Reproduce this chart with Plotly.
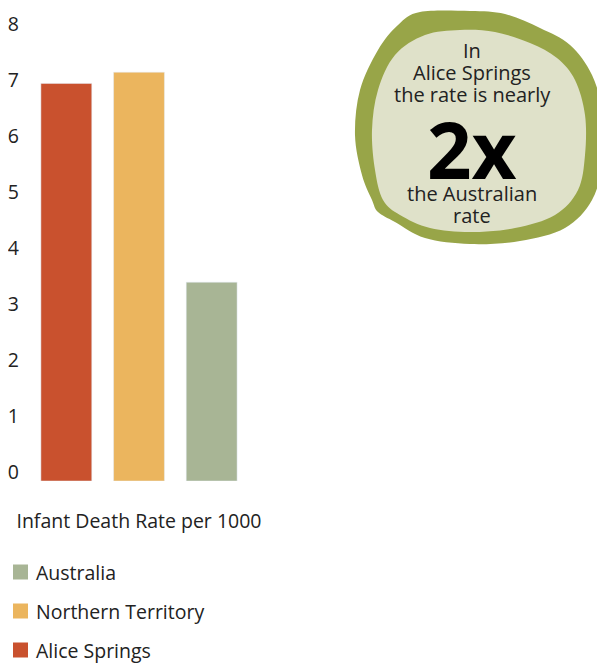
import plotly.graph_objects as go

# ---- data ----
categories = ["Alice Springs", "Northern Territory", "Australia"]
values = [7.1, 7.3, 3.55]
colors = ["#c9512e", "#ebb55e", "#a8b595"]
y_ticks = [0, 1, 2, 3, 4, 5, 6, 7, 8]
axis_title = "Infant Death Rate per 1000"
callout_top = ["In", "Alice Springs", "the rate is nearly"]
callout_big = "2x"
callout_bottom = ["the Australian", "rate"]

W, H = 605, 664
OFF = 8  # page body margin: page px -> figure px
L, T = 30 - OFF, 33 - OFF
R = W - (248 - OFF)
B = H - (481 - OFF)
PW, PH = W - L - R, H - T - B
FONT = "'Open Sans', 'Noto Sans', sans-serif"
FS = 19.5


def px_to_paper(x, y):
    fx, fy = x - OFF, y - OFF
    return (fx - L) / PW, (H - B - fy) / PH


def smooth_path(points):
    n = len(points)
    pts = [px_to_paper(*p) for p in points]
    d = "M{:.4f},{:.4f}".format(*pts[0])
    for i in range(n):
        p0 = pts[(i - 1) % n]
        p1 = pts[i]
        p2 = pts[(i + 1) % n]
        p3 = pts[(i + 2) % n]
        c1 = (p1[0] + (p2[0] - p0[0]) / 6, p1[1] + (p2[1] - p0[1]) / 6)
        c2 = (p2[0] - (p3[0] - p1[0]) / 6, p2[1] - (p3[1] - p1[1]) / 6)
        d += " C{:.4f},{:.4f} {:.4f},{:.4f} {:.4f},{:.4f}".format(*c1, *c2, *p2)
    return d + " Z"


outer_blob = [(420, 12), (470, 11), (505, 14), (540, 28), (570, 45), (592, 75),
              (603, 115), (603, 160), (592, 200), (565, 228), (520, 241), (470, 244),
              (425, 238), (395, 222), (378, 212), (372, 200), (362, 175), (355, 135),
              (360, 90), (378, 50), (398, 25)]
inner_blob = [(460, 30), (495, 32), (530, 43), (557, 58), (575, 80), (585, 115),
              (585, 155), (578, 190), (555, 215), (515, 228), (470, 232), (430, 228),
              (400, 215), (383, 200), (375, 170), (372, 130), (378, 90), (395, 55),
              (425, 35)]

fig = go.Figure()
for cat, val, col in zip(categories, values, colors):
    fig.add_trace(go.Bar(
        x=[cat], y=[val], name=cat, marker_color=col, width=0.7,
        hoverinfo="x+y", showlegend=False,
    ))

# legend (Australia first), drawn as key squares + labels
legend_rows = [572, 611, 650]
for (cat, col), ypx in zip(reversed(list(zip(categories, colors))), legend_rows):
    x0, y0 = px_to_paper(13, ypx - 7.5)
    x1, y1 = px_to_paper(28, ypx + 7.5)
    fig.add_shape(type="rect", xref="paper", yref="paper", x0=x0, x1=x1, y0=y0, y1=y1,
                  fillcolor=col, line_width=0)
    fig.add_annotation(x=px_to_paper(34, 0)[0], y=px_to_paper(0, ypx)[1],
                       xref="paper", yref="paper", text=cat, showarrow=False,
                       xanchor="left", yanchor="middle",
                       font=dict(family=FONT, size=FS, color="#222"))

fig.add_shape(type="path", xref="paper", yref="paper", path=smooth_path(outer_blob),
              fillcolor="#98a548", line_width=0, layer="above")
fig.add_shape(type="path", xref="paper", yref="paper", path=smooth_path(inner_blob),
              fillcolor="#dfe1c9", line_width=0, layer="above")

cx = px_to_paper(472, 0)[0]
small_lines = list(zip(callout_top, [50.5, 72, 94])) + list(zip(callout_bottom, [193, 215]))
for txt, ypx in small_lines:
    fig.add_annotation(x=cx, y=px_to_paper(0, ypx + 0.5)[1], xref="paper", yref="paper",
                       text=txt, showarrow=False, xanchor="center", yanchor="middle",
                       font=dict(family=FONT, size=20, color="#222"), align="center")
fig.add_annotation(x=cx, y=px_to_paper(0, 148.5)[1], xref="paper", yref="paper",
                   text="<b>" + callout_big + "</b>", showarrow=False,
                   xanchor="center", yanchor="middle",
                   font=dict(family=FONT, size=78, color="#000", weight=800), align="center")

fig.update_layout(
    width=W, height=H,
    margin=dict(l=L, r=R, t=T, b=B, pad=0, autoexpand=False),
    paper_bgcolor="white", plot_bgcolor="white",
    font=dict(family=FONT, size=FS, color="#222"),
    showlegend=False,
    xaxis=dict(
        categoryorder="array", categoryarray=categories,
        range=[-0.5, 2.5], showticklabels=False, showgrid=False,
        zeroline=False, showline=False, ticks="", automargin=False,
        title=dict(text=axis_title, font=dict(family=FONT, size=FS, color="#222"), standoff=33),
    ),
    yaxis=dict(
        range=[0, 8], tickvals=y_ticks, ticktext=[str(v) for v in y_ticks],
        showgrid=False, zeroline=False, showline=False, ticks="", automargin=False,
        tickfont=dict(family=FONT, size=FS, color="#222"),
        ticklabelshift=-9, ticklabelstandoff=10,
    ),
    bargap=0.3,
)

fig.write_html("out.html")
